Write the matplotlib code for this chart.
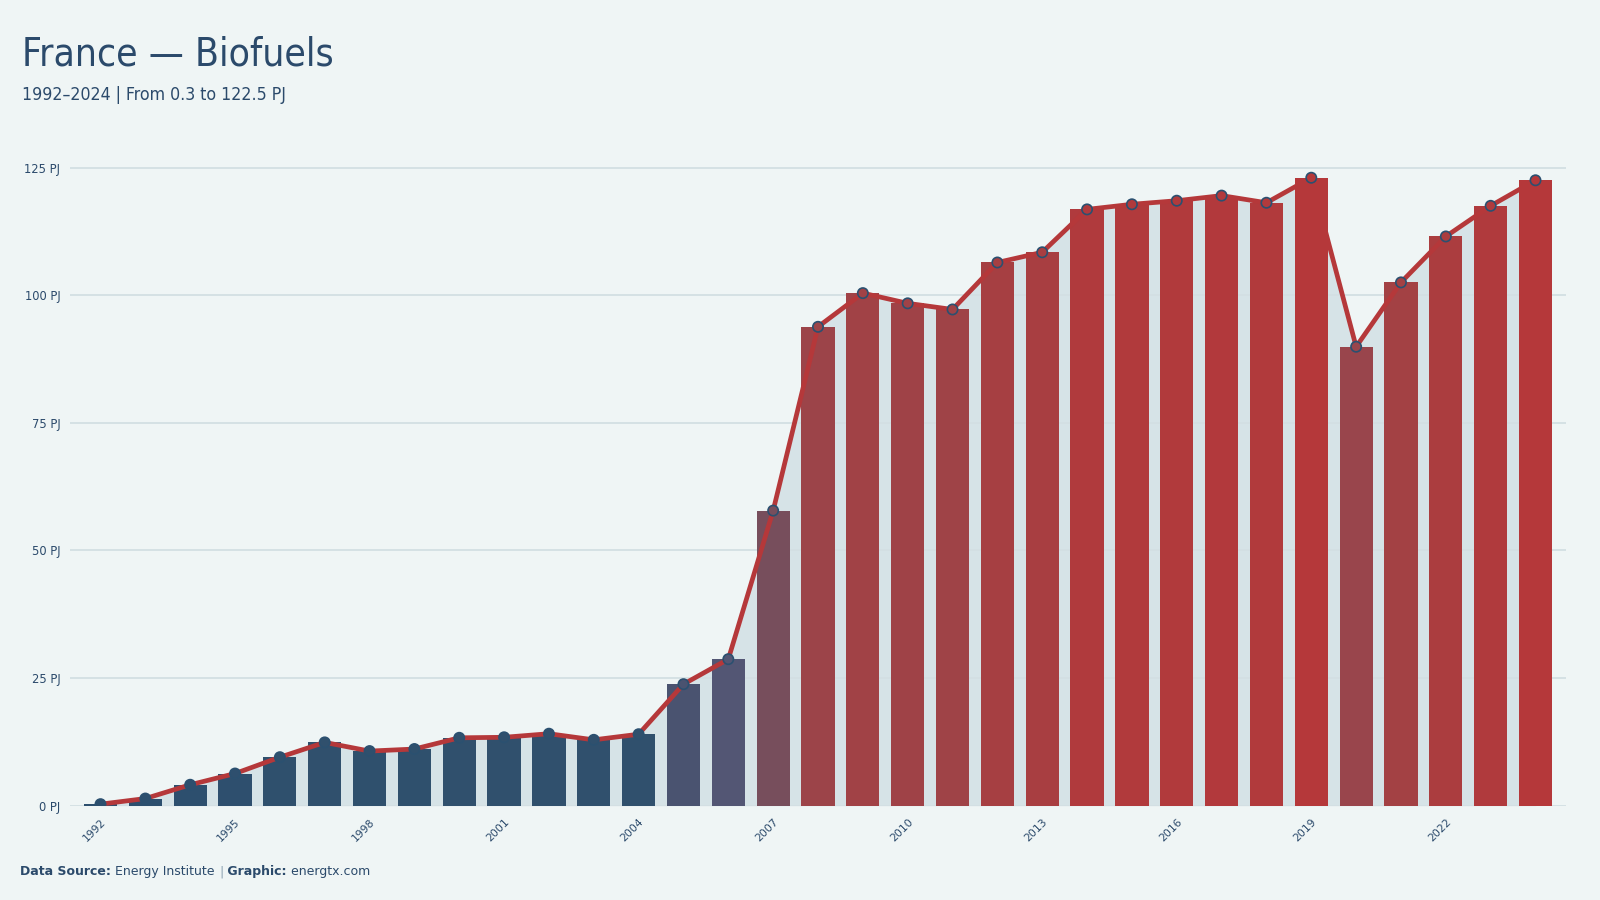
import matplotlib
matplotlib.use("Agg")
import matplotlib.pyplot as plt
import numpy as np
from matplotlib.colors import LinearSegmentedColormap

# ---- data ----
years = list(range(1992, 2025))
values = [0.3, 1.4, 4.1, 6.3, 9.5, 12.4, 10.7, 11.1, 13.3, 13.4, 14.1, 12.9, 14.0,
          23.8, 28.7, 57.8, 93.8, 100.4, 98.4, 97.2, 106.4, 108.4, 116.8, 117.8,
          118.5, 119.5, 118.1, 123.0, 89.9, 102.5, 111.5, 117.5, 122.5]
tick_years = years[::3]
y_ticks = [0, 25, 50, 75, 100, 125]
y_labels = [f"{v} PJ" for v in y_ticks]
title = "France — Biofuels"
subtitle = "1992–2024 | From 0.3 to 122.5 PJ"

# ---- style ----
BG = "#eff5f5"
TXT = "#2b4a6b"
RED = "#b5383a"
BLUE = "#2c4f6e"
AREA = "#d6e3e7"
GRID = "#d3dfe3"

cmap = LinearSegmentedColormap.from_list(
    "bf", [(0.0, BLUE), (0.11, "#30506d"), (0.19, "#495370"), (0.233, "#535674"),
           (0.47, "#784e5c"), (0.74, "#9a454b"), (0.765, "#9c4449"),
           (0.867, "#a63f42"), (1.0, RED)])
vmin, vmax = min(values), max(values)
colors = [cmap((v - vmin) / (vmax - vmin)) for v in values]

fig = plt.figure(figsize=(16, 9), dpi=100, facecolor=BG)
ax = fig.add_axes([70 / 1600, 1 - 805.7 / 900, (1566 - 70) / 1600, (805.7 - 142) / 900])
ax.set_facecolor(BG)

x = np.arange(len(years))
ax.fill_between(x, values, 0, color=AREA, lw=0, zorder=1)
ax.bar(x, values, width=0.74, color=colors, zorder=3, lw=0)
ax.plot(x, values, color=RED, lw=3.4, zorder=4, solid_joinstyle="round",
        solid_capstyle="round")
ax.scatter(x, values, s=55, c=colors, edgecolors="#2b5070", linewidths=1.2, zorder=5)

ax.set_xlim(-0.68, len(years) - 1 + 0.68)
ax.set_ylim(0, 130)
ax.set_yticks(y_ticks)
ax.set_yticklabels(y_labels, fontsize=8.3, color=TXT, family="DejaVu Sans")
ax.yaxis.grid(True, color=GRID, lw=1.3, zorder=2)
ax.set_axisbelow(False)
for gl in ax.get_ygridlines():
    gl.set_zorder(2)

ax.set_xticks([years.index(t) for t in tick_years])
ax.set_xticklabels([str(t) for t in tick_years], rotation=45, ha="right",
                   rotation_mode="anchor", fontsize=7.8, color=TXT, family="DejaVu Sans")
ax.tick_params(axis="both", length=0)
ax.tick_params(axis="y", pad=7)
ax.tick_params(axis="x", pad=8)
for s in ax.spines.values():
    s.set_visible(False)

# ---- titles ----
fig.text(22 / 1600, 1 - 65.7 / 900, title, fontsize=28, color=TXT,
         family="DejaVu Sans", fontstretch="condensed", va="baseline", ha="left")
fig.text(22 / 1600, 1 - 100 / 900, subtitle, fontsize=12.7, color=TXT,
         family="DejaVu Sans", fontstretch="condensed", va="baseline", ha="left")

# ---- footer ----
fig.canvas.draw()
renderer = fig.canvas.get_renderer()
parts = [("Data Source:", "bold", TXT), (" Energy Institute ", "normal", TXT),
         ("|", "normal", "#8aa0b0"), (" Graphic:", "bold", TXT), (" energtx.com", "normal", TXT)]
xpos = 20.5
ybase = 1 - 875 / 900
for txt, wt, col in parts:
    t = fig.text(xpos / 1600, ybase, txt, fontsize=9, fontweight=wt, color=col,
                 family="DejaVu Sans", va="baseline", ha="left")
    bb = t.get_window_extent(renderer=renderer)
    xpos += bb.width

fig.savefig("out.png", dpi=100, facecolor=BG)
